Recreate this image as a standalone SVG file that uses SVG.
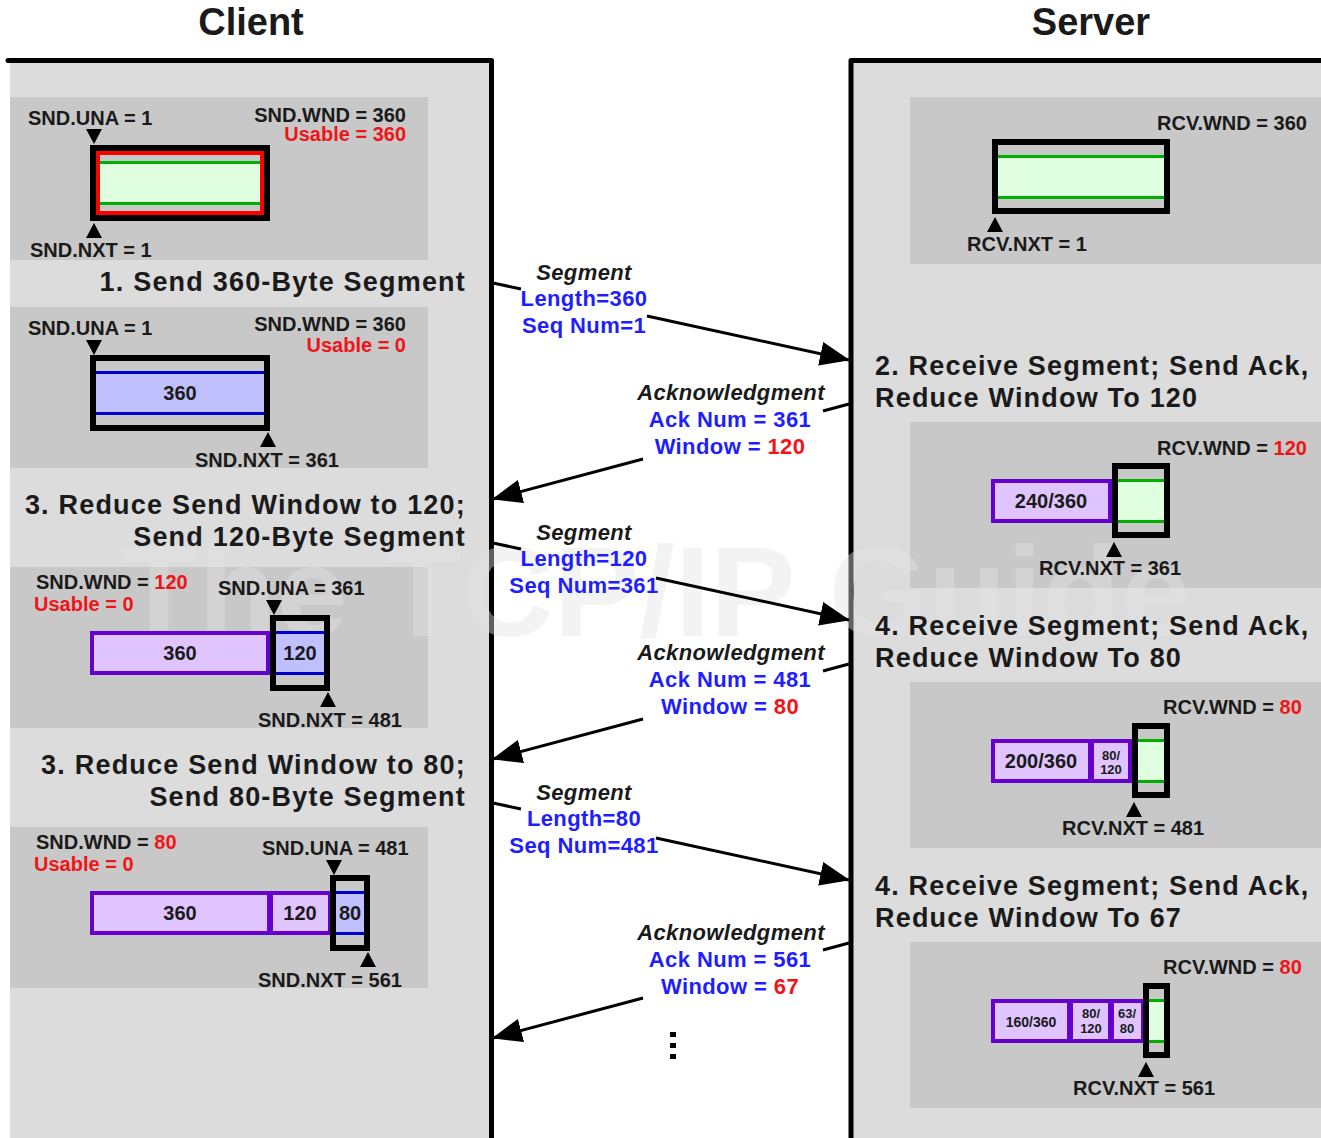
<svg xmlns="http://www.w3.org/2000/svg" width="1321" height="1138" viewBox="0 0 1321 1138">
  <defs>
    <style>
      .t { font-family: "Liberation Sans", Arial, sans-serif; font-weight: bold; font-size: 20px; fill: #1a1a1a; }
      .title { font-size: 38px; text-anchor: middle; }
      .h { font-size: 27px; letter-spacing: 1.2px; }
      .lbl { font-size: 22px; letter-spacing: 0.4px; text-anchor: middle; }
      .it { font-style: italic; }
      .sm { font-size: 13px; text-anchor: middle; }
      .mid { text-anchor: middle; }
      .end { text-anchor: end; }
      .red { fill: #f01418; }
      .blue { fill: #1e1eff; }
      .panel { fill: #dcdcdc; }
      .box { fill: #c8c8c8; }
      .border { fill: none; stroke: #000; stroke-width: 5; stroke-linecap: round; stroke-linejoin: round; }
      .frame { fill: none; stroke: #000; stroke-width: 6; }
      .usable { fill: none; stroke: #ff0000; stroke-width: 4; }
      .gfill { fill: #e0ffe0; }
      .gline { fill: none; stroke: #00b000; stroke-width: 3; }
      .bfill { fill: #c0c0ff; }
      .bline { fill: none; stroke: #0000cc; stroke-width: 3; }
      .cell { fill: #e0c4ff; stroke: #6600cc; stroke-width: 4; }
      .tri { fill: #000; }
      .conn { fill: none; stroke: #000; stroke-width: 3; marker-end: url(#head); }
      .wm { font-family: "Liberation Sans", Arial, sans-serif; font-weight: bold; font-size: 128px; fill: #e4e4e4; opacity: 0.42; }
    </style>
    <marker id="head" viewBox="0 0 30 24" markerWidth="30" markerHeight="24" refX="29" refY="12" orient="auto" markerUnits="userSpaceOnUse">
      <path d="M0,0 L30,12 L0,24 Z" fill="#000"/>
    </marker>
  </defs>

  <rect width="1321" height="1138" fill="#ffffff"/>

  <!-- host panels and state backdrops -->
  <g id="backdrop">
    <rect class="panel" x="10" y="62" width="481" height="1076"/>
    <rect class="panel" x="851" y="62" width="470" height="1076"/>
    <rect class="box" x="10" y="97" width="418" height="163"/>
    <rect class="box" x="10" y="307" width="418" height="161"/>
    <rect class="box" x="10" y="567" width="418" height="161"/>
    <rect class="box" x="10" y="827" width="418" height="161"/>
    <rect class="box" x="910" y="97" width="411" height="167"/>
    <rect class="box" x="910" y="422" width="411" height="166"/>
    <rect class="box" x="910" y="682" width="411" height="166"/>
    <rect class="box" x="910" y="942" width="411" height="166"/>
    <path class="border" d="M8,60.5 H491.5 V1140"/>
    <path class="border" d="M851,1140 V60.5 H1323"/>
  </g>

  <text class="wm" x="120" y="636">The TCP/IP Guide</text>

  <text class="t title" x="251" y="35">Client</text>
  <text class="t title" x="1091" y="35">Server</text>

  <!-- client state 1: full window, nothing sent -->
  <g id="client-state-1">
    <text class="t" x="28" y="125">SND.UNA = 1</text>
    <text class="t end" x="406" y="122">SND.WND = 360</text>
    <text class="t end red" x="406" y="141">Usable = 360</text>
    <path class="tri" d="M86,129 H102 L94,144 Z"/>
    <rect class="gfill" x="96" y="162" width="168" height="42"/>
    <path class="gline" d="M96,162.5 H264 M96,203.5 H264"/>
    <rect class="usable" x="98" y="153" width="164" height="60"/>
    <rect class="frame" x="93" y="148" width="174" height="70"/>
    <path class="tri" d="M86,238 H102 L94,223 Z"/>
    <text class="t" x="30" y="257">SND.NXT = 1</text>
  </g>
  <g id="client-step-1">
    <text class="t h end" x="466" y="291">1. Send 360-Byte Segment</text>
  </g>

  <!-- client state 2: 360 bytes in flight -->
  <g id="client-state-2">
    <text class="t" x="28" y="335">SND.UNA = 1</text>
    <text class="t end" x="406" y="331">SND.WND = 360</text>
    <text class="t end red" x="406" y="352">Usable = 0</text>
    <path class="tri" d="M86,340 H102 L94,355 Z"/>
    <rect class="bfill" x="96" y="372" width="168" height="42"/>
    <path class="bline" d="M96,372.5 H264 M96,413.5 H264"/>
    <rect class="frame" x="93" y="358" width="174" height="70"/>
    <text class="t mid" x="180" y="400">360</text>
    <path class="tri" d="M260,447 H276 L268,432 Z"/>
    <text class="t" x="195" y="467">SND.NXT = 361</text>
  </g>
  <g id="client-step-2">
    <text class="t h end" x="466" y="514">3. Reduce Send Window to 120;</text>
    <text class="t h end" x="466" y="546">Send 120-Byte Segment</text>
  </g>

  <!-- client state 3: window shrunk to 120 -->
  <g id="client-state-3">
    <text class="t" x="36" y="589">SND.WND = <tspan class="red">120</tspan></text>
    <text class="t red" x="34" y="611">Usable = 0</text>
    <text class="t" x="218" y="595">SND.UNA = 361</text>
    <path class="tri" d="M266,600 H282 L274,615 Z"/>
    <rect class="cell" x="92" y="633" width="176" height="40"/>
    <text class="t mid" x="180" y="660">360</text>
    <rect class="bfill" x="276" y="632" width="48" height="42"/>
    <path class="bline" d="M276,632.5 H324 M276,673.5 H324"/>
    <rect class="frame" x="273" y="618" width="54" height="70"/>
    <text class="t mid" x="300" y="660">120</text>
    <path class="tri" d="M320,707 H336 L328,692 Z"/>
    <text class="t" x="258" y="727">SND.NXT = 481</text>
  </g>
  <g id="client-step-3">
    <text class="t h end" x="466" y="774">3. Reduce Send Window to 80;</text>
    <text class="t h end" x="466" y="806">Send 80-Byte Segment</text>
  </g>

  <!-- client state 4: window shrunk to 80 -->
  <g id="client-state-4">
    <text class="t" x="36" y="849">SND.WND = <tspan class="red">80</tspan></text>
    <text class="t red" x="34" y="871">Usable = 0</text>
    <text class="t" x="262" y="855">SND.UNA = 481</text>
    <path class="tri" d="M326,860 H342 L334,875 Z"/>
    <rect class="cell" x="92" y="893" width="177" height="40"/>
    <rect class="cell" x="271" y="893" width="59" height="40"/>
    <text class="t mid" x="180" y="920">360</text>
    <text class="t mid" x="300" y="920">120</text>
    <rect class="bfill" x="336" y="892" width="28" height="42"/>
    <path class="bline" d="M336,892.5 H364 M336,933.5 H364"/>
    <rect class="frame" x="333" y="878" width="34" height="70"/>
    <text class="t mid" x="350" y="920">80</text>
    <path class="tri" d="M360,967 H376 L368,952 Z"/>
    <text class="t" x="258" y="987">SND.NXT = 561</text>
  </g>

  <!-- server state 1: empty receive window -->
  <g id="server-state-1">
    <text class="t" x="1157" y="130">RCV.WND = 360</text>
    <rect class="gfill" x="998" y="156" width="166" height="42"/>
    <path class="gline" d="M998,156.5 H1164 M998,197.5 H1164"/>
    <rect class="frame" x="995" y="142" width="172" height="69"/>
    <path class="tri" d="M987,232 H1003 L995,217 Z"/>
    <text class="t" x="967" y="251">RCV.NXT = 1</text>
  </g>
  <g id="server-step-1">
    <text class="t h" x="875" y="375">2. Receive Segment; Send Ack,</text>
    <text class="t h" x="875" y="407">Reduce Window To 120</text>
  </g>

  <!-- server state 2 -->
  <g id="server-state-2">
    <text class="t" x="1157" y="455">RCV.WND = <tspan class="red">120</tspan></text>
    <rect class="cell" x="993" y="481" width="117" height="40"/>
    <text class="t mid" x="1051" y="508">240/360</text>
    <rect class="gfill" x="1118" y="480" width="46" height="42"/>
    <path class="gline" d="M1118,480.5 H1164 M1118,521.5 H1164"/>
    <rect class="frame" x="1115" y="466" width="52" height="69"/>
    <path class="tri" d="M1106,557 H1122 L1114,542 Z"/>
    <text class="t" x="1039" y="575">RCV.NXT = 361</text>
  </g>
  <g id="server-step-2">
    <text class="t h" x="875" y="635">4. Receive Segment; Send Ack,</text>
    <text class="t h" x="875" y="667">Reduce Window To 80</text>
  </g>

  <!-- server state 3 -->
  <g id="server-state-3">
    <text class="t" x="1163" y="714">RCV.WND = <tspan class="red">80</tspan></text>
    <rect class="cell" x="993" y="741" width="97" height="40"/>
    <rect class="cell" x="1092" y="741" width="38" height="40"/>
    <text class="t mid" x="1041" y="768">200/360</text>
    <text class="t sm" x="1111" y="760">80/</text>
    <text class="t sm" x="1111" y="774">120</text>
    <rect class="gfill" x="1138" y="740" width="26" height="42"/>
    <path class="gline" d="M1138,740.5 H1164 M1138,781.5 H1164"/>
    <rect class="frame" x="1135" y="726" width="32" height="69"/>
    <path class="tri" d="M1126,817 H1142 L1134,802 Z"/>
    <text class="t" x="1062" y="835">RCV.NXT = 481</text>
  </g>
  <g id="server-step-3">
    <text class="t h" x="875" y="895">4. Receive Segment; Send Ack,</text>
    <text class="t h" x="875" y="927">Reduce Window To 67</text>
  </g>

  <!-- server state 4 -->
  <g id="server-state-4">
    <text class="t" x="1163" y="974">RCV.WND = <tspan class="red">80</tspan></text>
    <rect class="cell" x="993" y="1001" width="76" height="40"/>
    <rect class="cell" x="1071" y="1001" width="39" height="40"/>
    <rect class="cell" x="1112" y="1001" width="31" height="40"/>
    <text class="t" x="1031" y="1027" style="font-size:14px;text-anchor:middle">160/360</text>
    <text class="t sm" x="1091" y="1018">80/</text>
    <text class="t sm" x="1091" y="1033">120</text>
    <text class="t sm" x="1127" y="1018">63/</text>
    <text class="t sm" x="1127" y="1033">80</text>
    <rect class="gfill" x="1149" y="1000" width="15" height="42"/>
    <path class="gline" d="M1149,1000.5 H1164 M1149,1041.5 H1164"/>
    <rect class="frame" x="1146" y="986" width="21" height="69"/>
    <path class="tri" d="M1138,1077 H1154 L1146,1062 Z"/>
    <text class="t" x="1073" y="1095">RCV.NXT = 561</text>
  </g>

  <!-- segment / acknowledgment exchanges -->
  <g id="connectors">
    <path class="conn" d="M493,283 L521,289 M647,316 L849,360"/>
    <path class="conn" d="M849,404 L823,411 M643,459 L493,499"/>
    <path class="conn" d="M493,543 L521,549 M656,578 L849,620"/>
    <path class="conn" d="M849,664 L823,671 M643,719 L493,759"/>
    <path class="conn" d="M493,803 L521,809 M656,838 L849,880"/>
    <path class="conn" d="M849,943 L823,950 M643,998 L493,1038"/>
  </g>

  <g id="segment-1-label">
    <text class="t lbl it" x="584" y="280">Segment</text>
    <text class="t lbl blue" x="584" y="306">Length=360</text>
    <text class="t lbl blue" x="584" y="333">Seq Num=1</text>
  </g>
  <g id="ack-1-label">
    <text class="t lbl it" x="731" y="400">Acknowledgment</text>
    <text class="t lbl blue" x="730" y="427">Ack Num = 361</text>
    <text class="t lbl blue" x="730" y="454">Window = <tspan class="red">120</tspan></text>
  </g>
  <g id="segment-2-label">
    <text class="t lbl it" x="584" y="540">Segment</text>
    <text class="t lbl blue" x="584" y="566">Length=120</text>
    <text class="t lbl blue" x="584" y="593">Seq Num=361</text>
  </g>
  <g id="ack-2-label">
    <text class="t lbl it" x="731" y="660">Acknowledgment</text>
    <text class="t lbl blue" x="730" y="687">Ack Num = 481</text>
    <text class="t lbl blue" x="730" y="714">Window = <tspan class="red">80</tspan></text>
  </g>
  <g id="segment-3-label">
    <text class="t lbl it" x="584" y="800">Segment</text>
    <text class="t lbl blue" x="584" y="826">Length=80</text>
    <text class="t lbl blue" x="584" y="853">Seq Num=481</text>
  </g>
  <g id="ack-3-label">
    <text class="t lbl it" x="731" y="940">Acknowledgment</text>
    <text class="t lbl blue" x="730" y="967">Ack Num = 561</text>
    <text class="t lbl blue" x="730" y="994">Window = <tspan class="red">67</tspan></text>
  </g>

  <!-- continuation marker -->
  <g id="continuation">
    <rect x="670" y="1032" width="6" height="5" fill="#000"/>
    <rect x="670" y="1043" width="6" height="5" fill="#000"/>
    <rect x="670" y="1054" width="6" height="5" fill="#000"/>
  </g>
</svg>
